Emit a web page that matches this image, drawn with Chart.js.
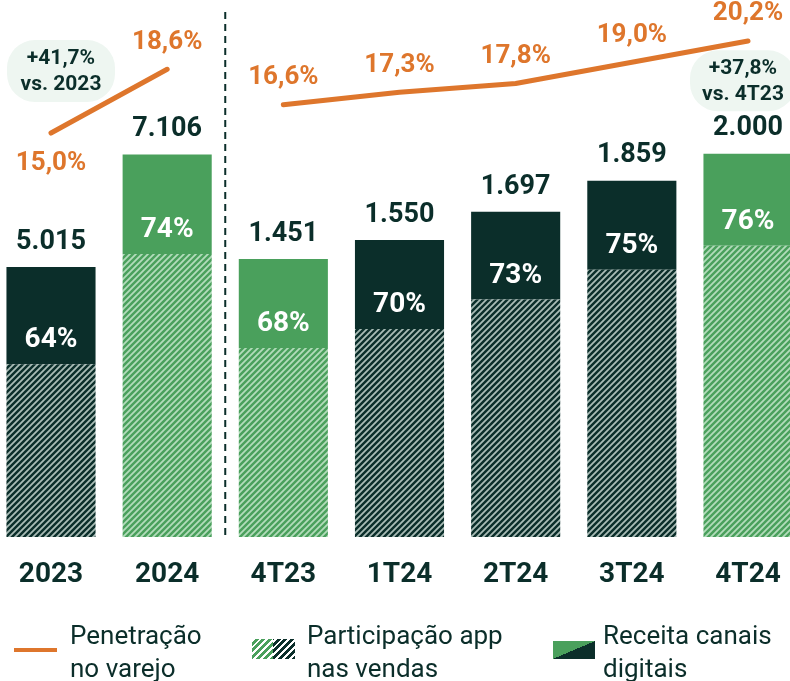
<!DOCTYPE html>
<html>
<head>
<meta charset="utf-8">
<script src="https://cdn.jsdelivr.net/npm/chart.js@4.4.1/dist/chart.umd.min.js"></script>
<style>
  html, body { margin: 0; padding: 0; background: #fff; }
  #wrap { position: relative; width: 790px; height: 681px; overflow: hidden; }
  #legend { position: absolute; left: 0; top: 619px; width: 790px; height: 62px;
            font-family: Roboto, sans-serif; font-size: 26px; line-height: 33px; color: #0b2e2a; }
  .item { position: absolute; top: 0; white-space: nowrap; }
  .icon { position: absolute; }
</style>
</head>
<body>
<div id="wrap">
  <canvas id="chart" width="790" height="681"></canvas>
  <div id="legend">
    <div class="icon" style="left:14px;top:29px;width:43px;height:4px;background:#de762c;"></div>
    <div class="item" style="left:70px;">Penetração<br>no varejo</div>
    <div class="icon" style="left:252px;top:20px;width:21px;height:20px;background:repeating-linear-gradient(-45deg,#4aa05c 0 2.8px,#ffffff 2.8px 4.8px);"></div>
    <div class="icon" style="left:273px;top:20px;width:22px;height:20px;background:repeating-linear-gradient(-45deg,#0b2e2a 0 2.8px,#ffffff 2.8px 4.8px);"></div>
    <div class="item" style="left:307px;">Participação app<br>nas vendas</div>
    <div class="icon" style="left:553px;top:22px;width:42px;height:18px;background:linear-gradient(to top left,#0b2e2a 50%,#4aa05c 50%);"></div>
    <div class="item" style="left:603px;">Receita canais<br>digitais</div>
  </div>
</div>
<script>
// --- DATA ---
const categories = ["2023", "2024", "4T23", "1T24", "2T24", "3T24", "4T24"];
const revenue = [5015, 7106, 1451, 1550, 1697, 1859, 2000];     // receita canais digitais
const appShare = [64, 74, 68, 70, 73, 75, 76];                    // participação app (%)
const penetration = [15.0, 18.6, 16.6, 17.3, 17.8, 19.0, 20.2];  // penetração no varejo (%)
const isAnnual = [true, true, false, false, false, false, false];
const isCurrent = [false, true, true, false, false, false, true]; // green bars
const growthNotes = [["+41,7%", "vs. 2023"], ["+37,8%", "vs. 4T23"]];

// --- COLORS ---
const DARK = "#0b2e2a";
const GREEN = "#4aa05c";
const ORANGE = "#de762c";
const BUBBLE = "#eef6f1";

function makeHatch(base, stripe) {
    const s = 6;
    const c = document.createElement("canvas");
    c.width = s; c.height = s;
    const g = c.getContext("2d");
    g.fillStyle = base;
    g.fillRect(0, 0, s, s);
    g.strokeStyle = stripe;
    g.lineWidth = 1.8;
    g.beginPath();
    g.moveTo(0, s); g.lineTo(s, 0);
    g.moveTo(-s / 2, s / 2); g.lineTo(s / 2, -s / 2);
    g.moveTo(s / 2, s * 1.5); g.lineTo(s * 1.5, s / 2);
    g.stroke();
    return g.createPattern(c, "repeat");
}
const hatchDark = makeHatch(DARK, "#a9bcb6");
const hatchGreen = makeHatch(GREEN, "#b3dcbb");

const fmtInt = v => String(v).replace(/\B(?=(\d{3})+(?!\d))/g, ".");
const fmtPct = v => v.toFixed(1).replace(".", ",") + "%";

// split values by period type
const pick = (arr, annual) => arr.map((v, i) => isAnnual[i] === annual ? v : null);
const appPart = revenue.map((v, i) => v * appShare[i] / 100);
const restPart = revenue.map((v, i) => v - appPart[i]);
const hatchColors = isCurrent.map(c => c ? hatchGreen : hatchDark);
const solidColors = isCurrent.map(c => c ? GREEN : DARK);

const barCommon = {
    type: "bar", stack: "s", categoryPercentage: 1, barPercentage: 0.767,
    borderWidth: 0, clip: false
};
const lineCommon = {
    type: "line", yAxisID: "yL", borderColor: ORANGE, borderWidth: 5,
    pointRadius: 0, borderCapStyle: "round", borderJoinStyle: "round",
    tension: 0, spanGaps: false, clip: false
};

const labelPlugin = {
    id: "labels",
    beforeDatasetsDraw(chart) {
        const ctx = chart.ctx;
        const x = chart.scales.x;
        const sepX = (x.getPixelForValue(1) + x.getPixelForValue(2)) / 2;
        ctx.save();
        ctx.strokeStyle = DARK;
        ctx.lineWidth = 2;
        ctx.setLineDash([7, 5]);
        ctx.beginPath();
        ctx.moveTo(sepX, chart.chartArea.top + 2);
        ctx.lineTo(sepX, chart.chartArea.bottom + 3);
        ctx.stroke();
        ctx.restore();
    },
    afterDatasetsDraw(chart) {
        const ctx = chart.ctx;
        ctx.save();
        ctx.textAlign = "center";
        ctx.textBaseline = "middle";
        categories.forEach((c, i) => {
            const base = isAnnual[i] ? 0 : 2;
            const appEl = chart.getDatasetMeta(base).data[i];
            const topEl = chart.getDatasetMeta(base + 1).data[i];
            ctx.fillStyle = DARK;
            ctx.font = "bold 27px Roboto";
            ctx.fillText(fmtInt(revenue[i]), topEl.x, topEl.y - 25);
            ctx.fillStyle = "#ffffff";
            ctx.font = "bold 28px Roboto";
            ctx.fillText(appShare[i] + "%", appEl.x, appEl.y - 24);
            const lp = chart.getDatasetMeta(isAnnual[i] ? 4 : 5).data[i];
            ctx.fillStyle = ORANGE;
            ctx.font = "bold 26px Roboto";
            ctx.fillText(fmtPct(penetration[i]), lp.x, i === 0 ? lp.y + 30 : lp.y - 27);
        });
        // growth bubbles
        const x = chart.scales.x, yL = chart.scales.yL;
        const bubbles = [
            { cx: x.getPixelForValue(0) + 10, cy: yL.getPixelForValue(18.5), w: 108, h: 62 },
            { cx: x.getPixelForValue(6) - 5, cy: yL.getPixelForValue(17.95), w: 106, h: 61 }
        ];
        bubbles.forEach((b, k) => {
            ctx.fillStyle = BUBBLE;
            ctx.beginPath();
            ctx.roundRect(b.cx - b.w / 2, b.cy - b.h / 2, b.w, b.h, 28);
            ctx.fill();
            ctx.fillStyle = DARK;
            ctx.font = "bold 21px Roboto";
            ctx.fillText(growthNotes[k][0], b.cx, b.cy - 12);
            ctx.fillText(growthNotes[k][1], b.cx, b.cy + 14);
        });
        ctx.restore();
    }
};

new Chart(document.getElementById("chart"), {
    data: {
        labels: categories,
        datasets: [
            { ...barCommon, yAxisID: "yA", data: pick(appPart, true), backgroundColor: hatchColors },
            { ...barCommon, yAxisID: "yA", data: pick(restPart, true), backgroundColor: solidColors },
            { ...barCommon, yAxisID: "yQ", data: pick(appPart, false), backgroundColor: hatchColors },
            { ...barCommon, yAxisID: "yQ", data: pick(restPart, false), backgroundColor: solidColors },
            { ...lineCommon, data: pick(penetration, true) },
            { ...lineCommon, data: pick(penetration, false) }
        ]
    },
    options: {
        responsive: false,
        animation: false,
        layout: { padding: { top: 10, left: 51, right: 42, bottom: 84 } },
        plugins: { legend: { display: false }, tooltip: { enabled: false } },
        scales: {
            x: {
                stacked: true, offset: false,
                grid: { display: false }, border: { display: false },
                ticks: { padding: 0, color: DARK, font: { family: "Roboto", weight: "bold", size: 28, lineHeight: 2.13 } },
                afterFit(scale) { scale.height = 60; }
            },
            yA: { display: false, stacked: true, min: 0, max: 9789 },
            yQ: { display: false, stacked: true, min: 0, max: 2750 },
            yL: { display: false, min: -7.82, max: 21.95 }
        }
    },
    plugins: [labelPlugin]
});
</script>
</body>
</html>
